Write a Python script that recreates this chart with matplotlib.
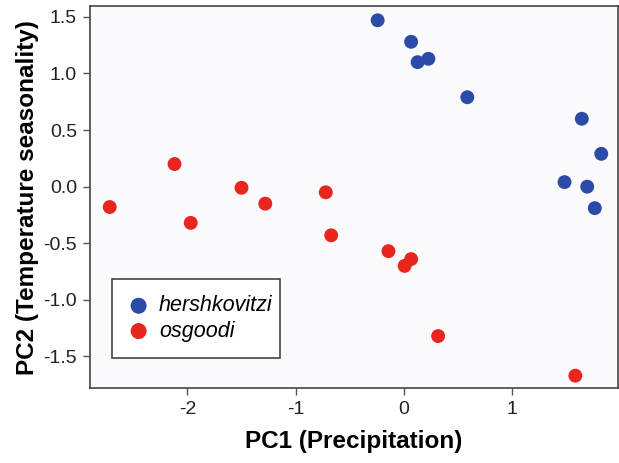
import numpy as np
import matplotlib.pyplot as plt

plt.rcParams['font.family'] = ['Liberation Sans', 'DejaVu Sans']

hersh_pc1 = [-0.24, 0.07, 0.13, 0.23, 0.59, 1.65, 1.83, 1.49, 1.70, 1.77]
hersh_pc2 = [1.47, 1.28, 1.10, 1.13, 0.79, 0.60, 0.29, 0.04, 0.00, -0.19]

osg_pc1 = [-2.72, -2.12, -1.97, -1.50, -1.28, -0.72, -0.67, -0.14, 0.07, 0.01, 0.32, 1.59]
osg_pc2 = [-0.18, 0.20, -0.32, -0.01, -0.15, -0.05, -0.43, -0.57, -0.64, -0.70, -1.32, -1.67]

x_ticks = [-2, -1, 0, 1]
y_ticks = [-1.5, -1.0, -0.5, 0.0, 0.5, 1.0, 1.5]

fig = plt.figure(figsize=(6.19, 4.63), dpi=100)
ax = fig.add_axes([0.1446, 0.161, 0.8538, 0.826])
ax.set_facecolor('#fbfbfd')

ax.scatter(hersh_pc1, hersh_pc2, s=100, color='#2b4ba8', edgecolors='none', label='hershkovitzi', zorder=3)
ax.scatter(osg_pc1, osg_pc2, s=100, color='#e8251f', edgecolors='none', label='osgoodi', zorder=3)

ax.set_xlim(-2.907, 1.985)
ax.set_ylim(-1.783, 1.596)
ax.set_xticks(x_ticks)
ax.set_xticklabels([str(v) for v in x_ticks])
ax.set_yticks(y_ticks)
ax.set_yticklabels(['%.1f' % v for v in y_ticks])
ax.tick_params(direction='out', length=5, width=1, color='#555555', labelcolor='#222222',
               labelsize=14, pad=4)

for s in ax.spines.values():
    s.set_color('#444444')
    s.set_linewidth(1.2)

ax.set_xlabel('PC1 (Precipitation)', fontsize=17.5, fontweight='bold', labelpad=9)
ax.set_ylabel('PC2 (Temperature seasonality)', fontsize=17.5, fontweight='bold', labelpad=3)

leg = ax.legend(loc='lower left', bbox_to_anchor=(0.042, 0.08, 0.318, 0.212), mode='expand',
                borderaxespad=0, fancybox=False, framealpha=1, edgecolor='#444444',
                prop={'style': 'italic', 'size': 15.5}, handletextpad=0.45, borderpad=0.75,
                labelspacing=0.2, handlelength=1.0, markerscale=1.15, scatterpoints=1)
leg.get_frame().set_linewidth(1.2)

fig.savefig('out.png', dpi=100)
